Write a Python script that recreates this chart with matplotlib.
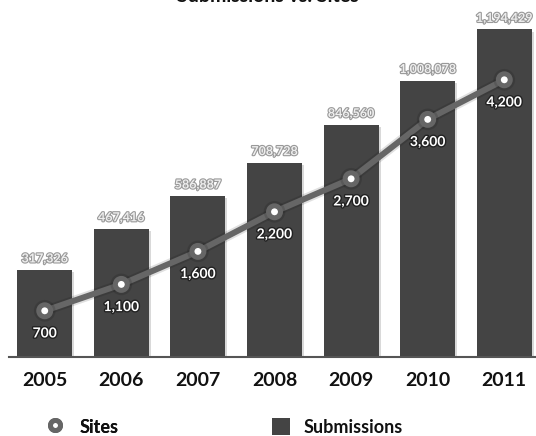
import matplotlib
matplotlib.use("Agg")
import matplotlib.pyplot as plt
import matplotlib.patheffects as pe
from matplotlib.lines import Line2D
from matplotlib.patches import Patch

years = ["2005", "2006", "2007", "2008", "2009", "2010", "2011"]
submissions = [317326, 467416, 586887, 708728, 846560, 1008078, 1194429]
sites = [700, 1100, 1600, 2200, 2700, 3600, 4200]
title = "Submissions vs. Sites"

plt.rcParams['font.family'] = ['Lato', 'DejaVu Sans']
plt.rcParams['font.weight'] = 'bold'

W, H = 536, 436
fig = plt.figure(figsize=(W/100, H/100), dpi=100)
ax = fig.add_axes([0, 79/H, 1, 357/H])
x = list(range(len(years)))
bar_color = '#444444'
line_color = '#666666'

bars = ax.bar(x, submissions, width=0.718, color=bar_color, zorder=2)
for b in bars:
    b.set_path_effects([pe.SimplePatchShadow(offset=(1.5, -1.5), shadow_rgbFace='#000000', alpha=0.15), pe.Normal()])
ax.set_xlim(-0.584, 6.414)
ax.set_ylim(0, 1302000)
for s in ['top', 'right', 'left']:
    ax.spines[s].set_visible(False)
ax.spines['bottom'].set_color('#555555')
ax.spines['bottom'].set_linewidth(1.5)
ax.spines['bottom'].set_bounds(-0.47, 6.414)
ax.set_yticks([])
ax.set_xticks(x)
ax.set_xticklabels(years, fontsize=14, fontweight='bold', color='#111111')
ax.tick_params(axis='x', length=0, pad=11)

for xi, v in zip(x, submissions):
    ax.annotate(f"{v:,}", (xi, v), xytext=(0, 4), textcoords='offset points',
                ha='center', va='bottom', fontsize=9, color='#eeeeee', fontweight='bold',
                path_effects=[pe.withStroke(linewidth=1.6, foreground='#999999')])

ax2 = ax.twinx()
ax2.set_ylim(0, 5409)
ax2.set_yticks([])
for s in ['top', 'right', 'left', 'bottom']:
    ax2.spines[s].set_visible(False)
ax2.plot(x, sites, color=line_color, lw=4.3, marker='o', ms=8.6, mew=3.6,
         mfc='white', mec=line_color, zorder=3, solid_capstyle='round',
         path_effects=[pe.SimpleLineShadow(offset=(0, 0), shadow_color='#000000', alpha=0.12, linewidth=7), pe.Normal()])
for xi, v in zip(x, sites):
    ax2.annotate(f"{v:,}", (xi, v), xytext=(0, -12), textcoords='offset points',
                 ha='center', va='top', fontsize=10, color='white', fontweight='bold',
                 path_effects=[pe.withStroke(linewidth=2, foreground='#222222')])

fig.text(0.5, 1 - 2.5/H, title, ha='center', va='baseline', fontsize=14, fontweight='bold', color='#111111')

h_sites = Line2D([], [], color=line_color, marker='o', ms=7.2, mew=3.6, mfc='white', mec=line_color, lw=0)
h_subs = Patch(facecolor=bar_color, edgecolor='none')
leg1 = fig.legend([h_sites], ['Sites'], loc='center left', bbox_to_anchor=(45.7/W, 1 - 427/H),
                  frameon=False, fontsize=13, handlelength=1.0, handleheight=1.0,
                  handletextpad=0.9, borderpad=0, borderaxespad=0)
leg2 = fig.legend([h_subs], ['Submissions'], loc='center left', bbox_to_anchor=(272/W, 1 - 427/H),
                  frameon=False, fontsize=13, handlelength=1.0, handleheight=1.0,
                  handletextpad=0.72, borderpad=0, borderaxespad=0)
fig.add_artist(leg1)
for leg in (leg1, leg2):
    for t in leg.get_texts():
        t.set_fontweight('bold')
        t.set_color('#111111')

fig.savefig('out.png', dpi=100)
